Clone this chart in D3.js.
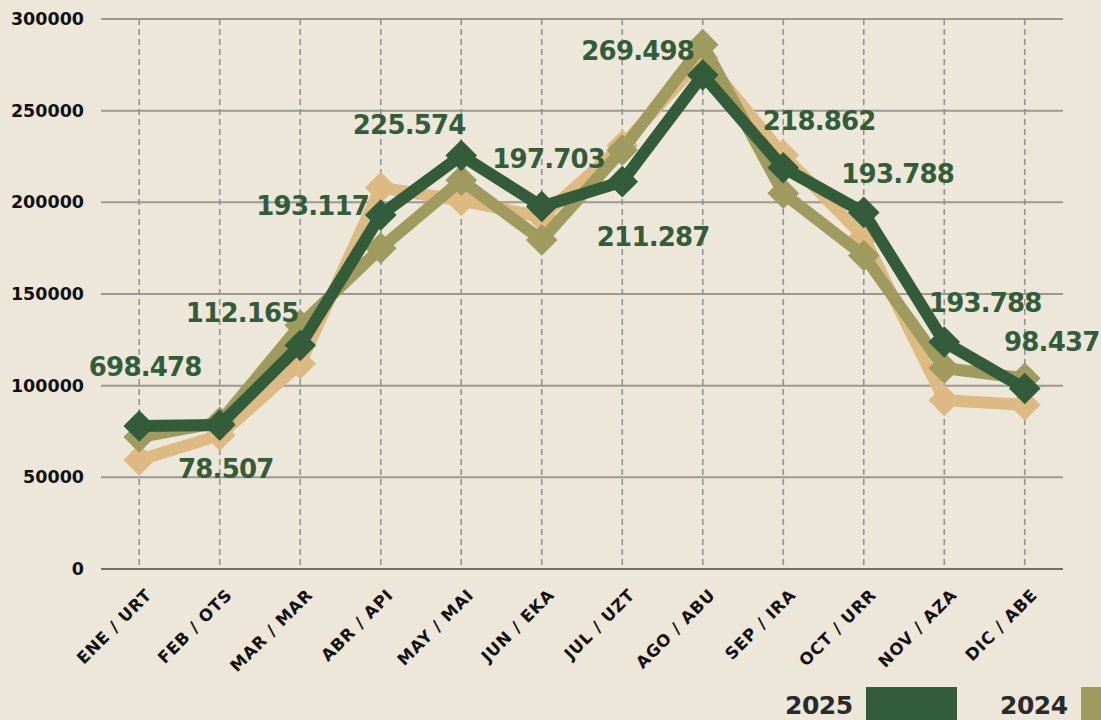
<!DOCTYPE html>
<html><head><meta charset="utf-8">
<script src="https://cdn.jsdelivr.net/npm/d3@7"></script>
<style>
html,body{margin:0;padding:0;background:#ede7d9;}
svg{display:block;}
</style></head>
<body>
<svg id="chart" width="1101" height="720"></svg>
<script>
const categories = ["ENE / URT","FEB / OTS","MAR / MAR","ABR / API","MAY / MAI","JUN / EKA","JUL / UZT","AGO / ABU","SEP / IRA","OCT / URR","NOV / AZA","DIC / ABE"];
const values2025 = [78000,78500,122000,193117,225574,197703,211287,269498,218862,194500,123800,98437];
const values2024 = [72000,80000,133000,175000,212000,179500,228500,286000,205000,171000,109600,104000];
const values2023 = [59500,73000,112000,208000,201000,192000,231000,279000,225800,181000,92000,89500];
const labels2025 = ["698.478","78.507","112.165","193.117","225.574","197.703","211.287","269.498","218.862","193.788","193.788","98.437"];
const yTicks = [0,50000,100000,150000,200000,250000,300000];
const legendYears = ["2025","2024"];

// label centre offsets (dx, dy) relative to each point, kept separate from data
const labelOffsets = [[6,-60],[6,43],[-58,-33],[-68,-9],[-52,-31],[7,-48],[31,55],[-65,-24],[36,-47],[34,-39],[41,-40],[27,-47]];

const svg = d3.select("#chart");
const W = 1101, H = 720;
const margin = {left:101, right:38, top:19, bottom:151};
const x = d3.scalePoint().domain(categories).range([margin.left, W - margin.right]).padding(0.475);
const y = d3.scaleLinear().domain([0,300000]).range([H - margin.bottom, margin.top]);

const colors = {c2025:"#335c3a", c2024:"#9f9b5e", c2023:"#dcba82"};
const FONT = "'DejaVu Sans', sans-serif";

// horizontal gridlines
svg.append("g").selectAll("line").data(yTicks).join("line")
  .attr("x1", margin.left).attr("x2", W - margin.right)
  .attr("y1", d=>y(d)).attr("y2", d=>y(d))
  .attr("stroke", d=> d===0 ? "#6f6f68" : "#9a9890")
  .attr("stroke-width", 2);

// vertical dashed gridlines
svg.append("g").selectAll("line").data(categories).join("line")
  .attr("x1", d=>x(d)).attr("x2", d=>x(d))
  .attr("y1", y(300000)).attr("y2", y(0))
  .attr("stroke", "#8e9396").attr("stroke-width", 1.6)
  .attr("stroke-dasharray", "6,4");

// y axis labels
const yAxis = d3.axisLeft(y).tickValues(yTicks).tickFormat(d=>String(d)).tickSize(0).tickPadding(17);
const gy = svg.append("g").attr("transform", `translate(${margin.left},0)`).call(yAxis);
gy.select(".domain").remove();
gy.selectAll("text").attr("font-family",FONT).attr("font-weight","bold")
  .attr("font-size", 17.5).attr("fill","#111");

// x axis labels
const xAxis = d3.axisBottom(x).tickSize(0).tickPadding(0);
const gx = svg.append("g").attr("transform", `translate(0,${y(0)})`).call(xAxis);
gx.select(".domain").remove();
gx.selectAll("text")
  .attr("font-family",FONT).attr("font-weight","bold")
  .attr("font-size", 16.5).attr("fill","#111").attr("letter-spacing","0.8")
  .attr("text-anchor","end")
  .attr("dy", null).attr("y", null)
  .attr("transform","translate(13,27) rotate(-45)");

// lines & markers
const line = d3.line().x((d,i)=>x(categories[i])).y(d=>y(d));
const seriesList = [
  {vals: values2023, color: colors.c2023},
  {vals: values2024, color: colors.c2024},
  {vals: values2025, color: colors.c2025}
];
const diamond = d3.symbol().type(d3.symbolSquare).size(500);
seriesList.forEach(s=>{
  svg.append("path").datum(s.vals).attr("d", line)
    .attr("fill","none").attr("stroke", s.color).attr("stroke-width", 12)
    .attr("stroke-linejoin","miter");
  svg.append("g").selectAll("path").data(s.vals).join("path")
    .attr("d", diamond)
    .attr("transform", (d,i)=>`translate(${x(categories[i])},${y(d)}) rotate(45)`)
    .attr("fill", s.color);
});

// value labels
svg.append("g").selectAll("text").data(labels2025).join("text")
  .attr("x", (d,i)=> x(categories[i]) + labelOffsets[i][0])
  .attr("y", (d,i)=> y(values2025[i]) + labelOffsets[i][1] + 9.5)
  .attr("text-anchor","middle")
  .attr("font-family",FONT).attr("font-weight","bold")
  .attr("font-size", 26).attr("letter-spacing","-0.8")
  .attr("fill", colors.c2025)
  .text(d=>d);

// legend
const legend = svg.append("g");
const legendX = [785, 1000];
const legendColors = [colors.c2025, colors.c2024];
legendYears.forEach((yr,i)=>{
  legend.append("text").attr("x", legendX[i]).attr("y", 714)
    .attr("font-family",FONT).attr("font-weight","bold")
    .attr("font-size", 25).attr("fill","#2a2a2a").attr("letter-spacing","-0.5").text(yr);
  legend.append("rect").attr("x", legendX[i] + 81).attr("y", 687)
    .attr("width", 91).attr("height", 40).attr("fill", legendColors[i]);
});
</script>
</body></html>
